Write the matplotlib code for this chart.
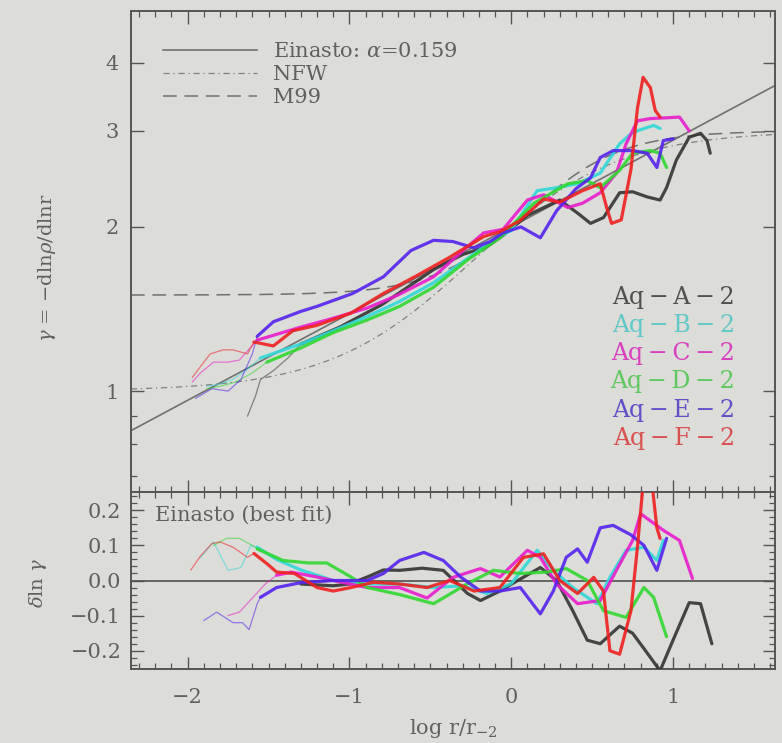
import numpy as np
import matplotlib
matplotlib.use("Agg")
import matplotlib.pyplot as plt
from matplotlib.lines import Line2D
from matplotlib.ticker import FixedLocator, FixedFormatter, MultipleLocator, NullFormatter, FuncFormatter

plt.rcParams['font.family'] = ['DejaVu Serif']
plt.rcParams['mathtext.fontset'] = 'dejavuserif'

# ---------------- data ----------------
halo_names = ["Aq-A-2", "Aq-B-2", "Aq-C-2", "Aq-D-2", "Aq-E-2", "Aq-F-2"]
halo_colors = ["#333333", "#30d8d8", "#e81ccc", "#30d830", "#5522ee", "#ee2020"]
label_colors = ["#505050", "#60c8c8", "#d840c0", "#60c860", "#6050c8", "#d85050"]

alpha_einasto = 0.159

# top panel: log r/r-2 and gamma, thin part (unconverged) and thick part
A_thin_x = [-1.63, -1.58, -1.55, -1.47, -1.38, -1.30]
A_thin_g = [0.90, 0.98, 1.05, 1.09, 1.15, 1.22]
A_x = [-1.30, -1.06, -0.80, -0.48, -0.30, -0.15, -0.05, 0.10, 0.30, 0.41, 0.49, 0.57, 0.67, 0.75, 0.84, 0.92, 0.96, 1.02, 1.10, 1.17, 1.21, 1.23]
A_g = [1.22, 1.31, 1.44, 1.67, 1.78, 1.84, 1.93, 2.10, 2.24, 2.12, 2.03, 2.08, 2.31, 2.32, 2.27, 2.24, 2.36, 2.65, 2.92, 2.97, 2.88, 2.73]

B_thin_x = [-1.88, -1.80, -1.72, -1.64, -1.55]
B_thin_g = [1.02, 1.03, 1.05, 1.09, 1.15]
B_x = [-1.55, -1.30, -1.10, -0.89, -0.69, -0.48, -0.27, -0.10, 0.00, 0.16, 0.28, 0.41, 0.55, 0.67, 0.75, 0.88, 0.92]
B_g = [1.15, 1.22, 1.29, 1.37, 1.46, 1.58, 1.75, 1.90, 1.97, 2.33, 2.36, 2.40, 2.51, 2.84, 2.98, 3.07, 3.03]

C_thin_x = [-1.97, -1.92, -1.84, -1.75, -1.68, -1.57]
C_thin_g = [1.04, 1.08, 1.13, 1.13, 1.14, 1.24]
C_x = [-1.57, -1.30, -1.10, -0.89, -0.70, -0.48, -0.27, -0.17, -0.05, 0.10, 0.20, 0.35, 0.44, 0.55, 0.65, 0.71, 0.78, 0.86, 0.96, 1.04, 1.10]
C_g = [1.24, 1.31, 1.36, 1.42, 1.50, 1.62, 1.84, 1.95, 1.98, 2.24, 2.29, 2.17, 2.21, 2.31, 2.51, 2.84, 3.13, 3.16, 3.17, 3.18, 3.00]

D_thin_x = [-1.88, -1.80, -1.70, -1.60, -1.51]
D_thin_g = [1.01, 1.02, 1.04, 1.08, 1.13]
D_x = [-1.51, -1.30, -1.10, -0.89, -0.69, -0.48, -0.27, -0.07, 0.14, 0.35, 0.47, 0.55, 0.67, 0.75, 0.86, 0.92, 0.96]
D_g = [1.13, 1.20, 1.28, 1.35, 1.43, 1.55, 1.74, 1.91, 2.21, 2.40, 2.43, 2.36, 2.54, 2.73, 2.76, 2.73, 2.57]

E_thin_x = [-1.95, -1.85, -1.75, -1.67, -1.60, -1.57]
E_thin_g = [0.97, 1.01, 1.00, 1.05, 1.17, 1.26]
E_x = [-1.57, -1.47, -1.30, -1.20, -0.98, -0.79, -0.62, -0.48, -0.36, -0.23, -0.13, -0.05, 0.06, 0.18, 0.28, 0.40, 0.49, 0.55, 0.63, 0.75, 0.84, 0.90, 0.94, 1.00]
E_g = [1.26, 1.34, 1.40, 1.43, 1.51, 1.62, 1.81, 1.89, 1.88, 1.83, 1.88, 1.95, 2.00, 1.91, 2.14, 2.35, 2.46, 2.68, 2.76, 2.76, 2.73, 2.57, 2.88, 2.90]

F_thin_x = [-1.97, -1.94, -1.86, -1.78, -1.72, -1.63, -1.59]
F_thin_g = [1.06, 1.09, 1.17, 1.19, 1.19, 1.17, 1.23]
F_x = [-1.59, -1.47, -1.35, -1.20, -0.99, -0.79, -0.58, -0.38, -0.17, -0.07, 0.05, 0.20, 0.30, 0.44, 0.55, 0.59, 0.62, 0.68, 0.74, 0.78, 0.815, 0.86, 0.89, 0.92]
F_g = [1.23, 1.21, 1.29, 1.32, 1.39, 1.51, 1.63, 1.76, 1.92, 1.96, 2.05, 2.25, 2.22, 2.33, 2.40, 2.17, 2.03, 2.06, 2.55, 3.30, 3.76, 3.60, 3.27, 3.18]

# bottom panel: residuals  d ln gamma  relative to the best-fit Einasto
A_res_x = [-1.30, -1.10, -1.00, -0.89, -0.79, -0.69, -0.55, -0.42, -0.27, -0.19, -0.07, 0.04, 0.18, 0.28, 0.38, 0.47, 0.55, 0.67, 0.75, 0.83, 0.92, 1.00, 1.10, 1.17, 1.24]
A_res_d = [-0.01, -0.015, -0.01, 0.01, 0.03, 0.029, 0.035, 0.029, -0.037, -0.057, -0.03, 0.0, 0.037, 0.0, -0.086, -0.17, -0.18, -0.13, -0.15, -0.20, -0.257, -0.17, -0.063, -0.066, -0.18]

B_res_thin_x = [-1.92, -1.84, -1.75, -1.67, -1.61, -1.57]
B_res_thin_d = [0.066, 0.11, 0.029, 0.037, 0.10, 0.095]
B_res_x = [-1.57, -1.45, -1.30, -1.10, -0.89, -0.69, -0.48, -0.30, -0.15, 0.00, 0.16, 0.26, 0.38, 0.53, 0.61, 0.71, 0.82, 0.90, 0.94]
B_res_d = [0.095, 0.06, 0.03, 0.0, -0.01, -0.01, -0.02, -0.015, -0.037, -0.009, 0.086, 0.029, -0.02, -0.066, 0.009, 0.086, 0.095, 0.057, 0.114]

C_res_thin_x = [-1.75, -1.68, -1.60, -1.52, -1.45]
C_res_thin_d = [-0.10, -0.09, -0.05, -0.01, 0.015]
C_res_x = [-1.45, -1.36, -1.20, -1.10, -0.89, -0.69, -0.52, -0.36, -0.19, -0.07, 0.10, 0.18, 0.28, 0.41, 0.55, 0.65, 0.75, 0.80, 0.94, 1.04, 1.12]
C_res_d = [0.015, 0.024, 0.01, 0.0, -0.02, -0.02, -0.05, 0.009, 0.034, 0.01, 0.086, 0.066, -0.01, -0.066, -0.057, 0.029, 0.114, 0.19, 0.143, 0.114, 0.006]

D_res_thin_x = [-1.84, -1.76, -1.68, -1.60, -1.57]
D_res_thin_d = [0.10, 0.12, 0.12, 0.10, 0.09]
D_res_x = [-1.57, -1.41, -1.25, -1.14, -0.99, -0.89, -0.69, -0.48, -0.27, -0.11, 0.056, 0.22, 0.34, 0.47, 0.57, 0.71, 0.82, 0.88, 0.96]
D_res_d = [0.09, 0.057, 0.05, 0.05, 0.01, -0.02, -0.04, -0.066, -0.009, 0.029, 0.02, 0.024, 0.034, 0.0, -0.086, -0.105, -0.02, -0.048, -0.16]

E_res_thin_x = [-1.90, -1.82, -1.72, -1.66, -1.62, -1.57, -1.55]
E_res_thin_d = [-0.114, -0.09, -0.12, -0.12, -0.14, -0.066, -0.048]
E_res_x = [-1.55, -1.45, -1.30, -1.10, -0.89, -0.79, -0.69, -0.54, -0.42, -0.31, -0.19, -0.07, 0.056, 0.18, 0.26, 0.34, 0.41, 0.47, 0.55, 0.63, 0.74, 0.82, 0.90, 0.96]
E_res_d = [-0.048, -0.02, -0.006, 0.0, 0.0, 0.02, 0.057, 0.08, 0.057, 0.009, -0.03, -0.03, -0.02, -0.095, -0.03, 0.066, 0.09, 0.052, 0.15, 0.157, 0.13, 0.10, 0.029, 0.12]

F_res_thin_x = [-1.98, -1.92, -1.85, -1.80, -1.72, -1.63, -1.59]
F_res_thin_d = [0.03, 0.07, 0.105, 0.11, 0.095, 0.066, 0.077]
F_res_x = [-1.59, -1.51, -1.45, -1.34, -1.20, -1.10, -0.99, -0.85, -0.69, -0.52, -0.38, -0.23, -0.07, 0.076, 0.20, 0.30, 0.41, 0.51, 0.57, 0.61, 0.67, 0.74, 0.78, 0.82, 0.86, 0.90, 0.92]
F_res_d = [0.077, 0.048, 0.024, 0.02, -0.02, -0.03, -0.02, -0.005, -0.01, -0.02, 0.0, -0.03, -0.02, 0.066, 0.076, 0.0, -0.037, 0.009, -0.03, -0.20, -0.21, -0.086, 0.095, 0.30, 0.32, 0.15, 0.12]

top_thin = [(A_thin_x, A_thin_g), (B_thin_x, B_thin_g), (C_thin_x, C_thin_g),
            (D_thin_x, D_thin_g), (E_thin_x, E_thin_g), (F_thin_x, F_thin_g)]
top_thick = [(A_x, A_g), (B_x, B_g), (C_x, C_g), (D_x, D_g), (E_x, E_g), (F_x, F_g)]
bot_thin = [None, (B_res_thin_x, B_res_thin_d), (C_res_thin_x, C_res_thin_d),
            (D_res_thin_x, D_res_thin_d), (E_res_thin_x, E_res_thin_d), (F_res_thin_x, F_res_thin_d)]
bot_thick = [(A_res_x, A_res_d), (B_res_x, B_res_d), (C_res_x, C_res_d),
             (D_res_x, D_res_d), (E_res_x, E_res_d), (F_res_x, F_res_d)]

# ---------------- figure ----------------
bg = "#dcdcd8"
txt = "#606060"
frame = "#555555"

fig = plt.figure(figsize=(7.82, 7.43), dpi=100, facecolor=bg)
ax1 = fig.add_axes([0.1675, 0.3378, 0.8235, 0.647], facecolor=bg)
ax2 = fig.add_axes([0.1675, 0.0996, 0.8235, 0.2382], facecolor=bg)

xlo, xhi = -2.35, 1.63

# model curves
xm = np.linspace(xlo, xhi, 400)
rr = 10.0 ** xm
g_ein = 2.0 * rr ** alpha_einasto
g_nfw = (1 + 3 * rr) / (1 + rr)
y99 = 0.5 ** (1 / 1.5) * rr
g_m99 = (1.5 + 3 * y99 ** 1.5) / (1 + y99 ** 1.5)

ax1.plot(xm, g_ein, color="#707070", lw=1.2, zorder=2)
ax1.plot(xm, g_nfw, color="#808080", lw=0.9, ls=(0, (5, 3, 1, 3)), zorder=2)
ax1.plot(xm, g_m99, color="#707070", lw=1.1, ls=(0, (9, 5)), zorder=2)

for i in range(6):
    c = halo_colors[i]
    tx, tg = top_thin[i]
    ax1.plot(tx, tg, color=c, lw=0.9, alpha=0.55, zorder=3)
    kx, kg = top_thick[i]
    ax1.plot(kx, kg, color=c, lw=2.3, alpha=0.9, zorder=4, solid_capstyle='round')
    if bot_thin[i] is not None:
        bx, bd = bot_thin[i]
        ax2.plot(bx, bd, color=c, lw=0.9, alpha=0.55, zorder=3)
    kx, kd = bot_thick[i]
    ax2.plot(kx, kd, color=c, lw=2.3, alpha=0.9, zorder=4, solid_capstyle='round')

ax2.axhline(0.0, color="#505050", lw=1.2, zorder=2)

# axes setup
ax1.set_yscale('log')
ax1.set_xlim(xlo, xhi)
ax1.set_ylim(0.653, 4.97)
ax2.set_xlim(xlo, xhi)
ax2.set_ylim(-0.252, 0.252)

ax1.yaxis.set_major_locator(FixedLocator([1, 2, 3, 4]))
ax1.yaxis.set_major_formatter(FixedFormatter(["1", "2", "3", "4"]))
ax1.yaxis.set_minor_locator(FixedLocator([0.7, 0.8, 0.9]))
ax1.yaxis.set_minor_formatter(NullFormatter())
ax1.xaxis.set_major_locator(MultipleLocator(1))
ax1.xaxis.set_minor_locator(MultipleLocator(0.1))
ax1.tick_params(axis='x', labelbottom=False)

ax2.xaxis.set_major_locator(MultipleLocator(1))
ax2.xaxis.set_minor_locator(MultipleLocator(0.1))
ax2.yaxis.set_major_locator(MultipleLocator(0.1))
ax2.yaxis.set_minor_locator(MultipleLocator(0.02))
ax2.yaxis.set_major_formatter(FuncFormatter(
    lambda v, p: ("%.1f" % v).replace("-", "\u2212") if abs(v) > 1e-9 else "0.0"))
ax2.xaxis.set_major_formatter(FuncFormatter(
    lambda v, p: ("%d" % round(v)).replace("-", "\u2212")))

for ax in (ax1, ax2):
    for s in ax.spines.values():
        s.set_color(frame)
        s.set_linewidth(1.4)
    ax.tick_params(which='both', direction='in', top=True, right=True,
                   color=frame, labelcolor=txt, labelsize=15)
    ax.tick_params(which='major', length=9, width=1.0)
    ax.tick_params(which='minor', length=4.5, width=0.9)
ax1.tick_params(axis='y', pad=9)
ax2.tick_params(axis='y', pad=7)
ax2.tick_params(axis='x', pad=14)

# labels
fig.text(47 / 782, 1 - 268 / 743, r"$\gamma$ = $-$dln$\rho$/dlnr", rotation=90,
         ha='center', va='center', color=txt, fontsize=14)
fig.text(38 / 782, 1 - 583 / 743, r"$\delta$ln $\gamma$", rotation=90,
         ha='center', va='center', color=txt, fontsize=14)
fig.text(453 / 782, 1 - 728 / 743, r"log r/r$_{-2}$", ha='center', va='center',
         color=txt, fontsize=15)
ax2.text(0.037, 0.87, "Einasto (best fit)", transform=ax2.transAxes,
         ha='left', va='center', color=txt, fontsize=15)

# halo labels
ts = "\u2009"
for i, name in enumerate(halo_names):
    lab = name.replace("-", ts + "\u2212" + ts)
    ax1.text(0.938, 0.405 - i * 0.0586, lab,
             transform=ax1.transAxes, ha='right', va='center',
             color=label_colors[i], fontsize=17)

# legend
handles = [Line2D([], [], color="#707070", lw=1.2),
           Line2D([], [], color="#808080", lw=0.9, ls=(0, (5, 3, 1, 3))),
           Line2D([], [], color="#707070", lw=1.1, ls=(0, (9, 5)))]
labels = [r"Einasto: $\alpha$=0.159", "NFW", "M99"]
leg = ax1.legend(handles, labels, loc='upper left', bbox_to_anchor=(0.03, 0.962),
                 frameon=False, handlelength=4.5, handletextpad=0.8,
                 labelspacing=0.2, fontsize=15, borderaxespad=0.2)
for t in leg.get_texts():
    t.set_color(txt)

fig.savefig("out.png", dpi=100, facecolor=bg)
